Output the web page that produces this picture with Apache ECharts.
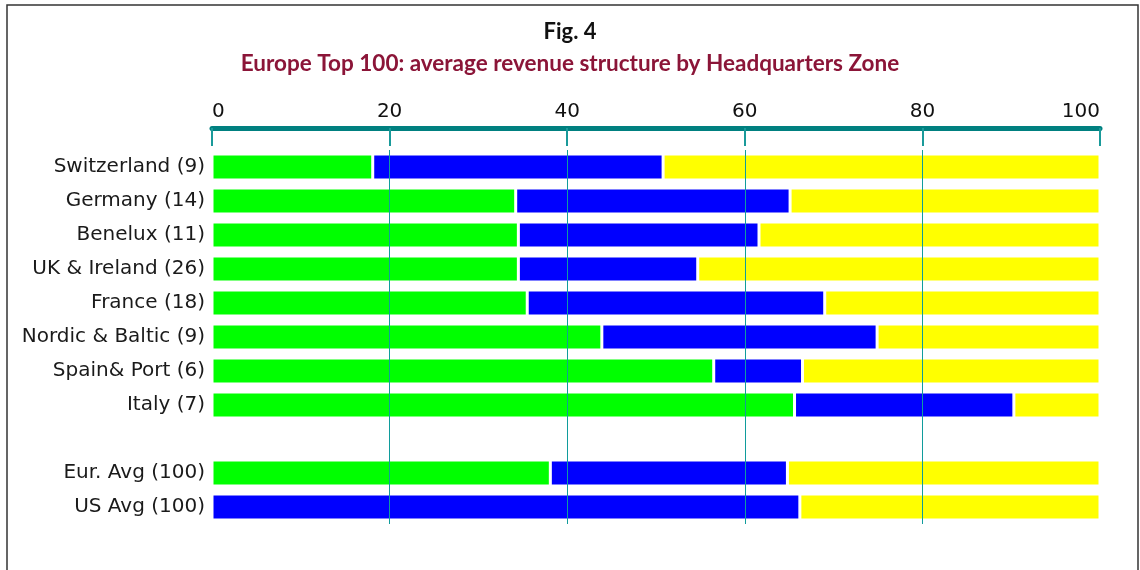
<!DOCTYPE html>
<html>
<head>
<meta charset="utf-8">
<script src="https://cdn.jsdelivr.net/npm/echarts@6/dist/echarts.min.js"></script>
<style>
  html, body { margin: 0; padding: 0; background: #fff; }
  #chart { width: 1140px; height: 570px; }
</style>
</head>
<body>
<div id="chart"></div>
<script>
// zones, top to bottom (empty one is the gap row)
var zones = ['Switzerland (9)', 'Germany (14)', 'Benelux (11)', 'UK & Ireland (26)', 'France (18)',
  'Nordic & Baltic (9)', 'Spain& Port (6)', 'Italy (7)', '', 'Eur. Avg (100)', 'US Avg (100)'];
var greenPart = [18.1, 34.2, 34.5, 34.5, 35.5, 43.9, 56.5, 65.6, null, 38.1, 0];
var bluePart = [32.7, 30.9, 27.1, 20.2, 33.5, 31.0, 10.0, 24.7, null, 26.7, 66.2];
var yellowPart = [49.2, 34.9, 38.4, 45.3, 31.0, 25.1, 33.5, 9.7, null, 35.2, 33.8];
var xTicks = [0, 20, 40, 60, 80, 100];

var chart = echarts.init(document.getElementById('chart'))
var font = 'DejaVu Sans'
var titleFont = 'Lato'

function barSeries(name, data, color) {
  return {
    name: name,
    type: 'bar',
    stack: 'rev',
    barWidth: 26,
    itemStyle: {
      color: color,
      borderColor: '#fff',
      borderWidth: 1.5
    },
    data: data
  }
}

var option = {
  animation: false,
  backgroundColor: '#fff',
  title: [{
    text: 'Fig. 4',
    left: 'center',
    top: 16,
    textStyle: { color: '#111', fontSize: 22, fontWeight: 'bold', fontFamily: titleFont }
  }, {
    text: 'Europe Top 100: average revenue structure by Headquarters Zone',
    left: 'center',
    top: 47,
    textStyle: { color: '#8b1538', fontSize: 22.5, fontWeight: 'bold', fontFamily: titleFont }
  }],
  graphic: [{
    type: 'rect',
    shape: { x: 7, y: 5, width: 1131, height: 600 },
    style: { fill: 'none', stroke: '#333', lineWidth: 1.5 },
    silent: true
  }],
  grid: {
    left: 212,
    right: 40,
    top: 150,
    bottom: 46
  },
  xAxis: {
    type: 'value',
    position: 'top',
    offset: 22,
    min: xTicks[0],
    max: xTicks[xTicks.length - 1],
    interval: 20,
    z: 5,
    axisLine: { show: true, lineStyle: { color: '#008080', width: 5 } },
    axisTick: { show: true, inside: true, length: 18, lineStyle: { color: '#1a9a9a', width: 2 } },
    axisLabel: {
      color: '#111', fontSize: 20, fontFamily: font, margin: 6,
      alignMinLabel: 'left', alignMaxLabel: 'right'
    },
    splitLine: {
      show: true,
      lineStyle: {
        color: ['rgba(0,0,0,0)', '#109c9c', '#109c9c', '#109c9c', '#109c9c', 'rgba(0,0,0,0)'],
        width: 1
      }
    }
  },
  yAxis: {
    type: 'category',
    inverse: true,
    data: zones,
    axisLine: { show: false },
    axisTick: { show: false },
    axisLabel: { color: '#1a1a1a', fontSize: 20, fontFamily: font, margin: 7 }
  },
  series: [
    barSeries('Green', greenPart, '#00ff00'),
    barSeries('Blue', bluePart, '#0000ff'),
    barSeries('Yellow', yellowPart, '#ffff00')
  ]
}
option && chart.setOption(option)
</script>
</body>
</html>
